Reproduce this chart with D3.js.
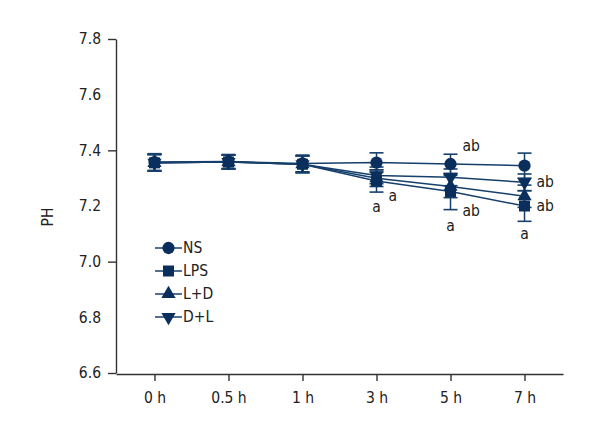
<!DOCTYPE html>
<html>
<head>
<meta charset="utf-8">
<script src="https://cdn.jsdelivr.net/npm/d3@7"></script>
<style>
  body { margin: 0; background: #fff; }
  text { font-family: "DejaVu Sans Condensed", sans-serif; fill: #222; }
</style>
</head>
<body>
<svg></svg>
<script>
const width = 600;
const height = 440;

const times = ['0 h', '0.5 h', '1 h', '3 h', '5 h', '7 h'];
const yTicks = [6.6, 6.8, 7.0, 7.2, 7.4, 7.6, 7.8];
const yMajor = [6.6, 7.0, 7.4, 7.8];

const nsVal = [7.358, 7.360, 7.353, 7.356, 7.351, 7.345];
const nsErr = [0.030, 0.025, 0.030, 0.035, 0.035, 0.045];
const lpsVal = [7.355, 7.358, 7.350, 7.290, 7.252, 7.200];
const lpsErr = [0.030, 0.025, 0.030, 0.040, 0.065, 0.055];
const ldVal = [7.355, 7.358, 7.350, 7.300, 7.270, 7.235];
const ldErr = [0.030, 0.025, 0.030, 0.030, 0.040, 0.040];
const dlVal = [7.355, 7.358, 7.350, 7.310, 7.303, 7.285];
const dlErr = [0.030, 0.025, 0.030, 0.030, 0.030, 0.030];

// significance letters: time, text, pH level of the label, side of the point
const marks = [
  { t: '3 h', text: 'a', ph: 7.196, side: 'below' },
  { t: '3 h', text: 'a', ph: 7.236, side: 'right' },
  { t: '5 h', text: 'ab', ph: 7.416, side: 'right' },
  { t: '5 h', text: 'ab', ph: 7.182, side: 'right' },
  { t: '5 h', text: 'a', ph: 7.128, side: 'below' },
  { t: '7 h', text: 'ab', ph: 7.286, side: 'right' },
  { t: '7 h', text: 'ab', ph: 7.200, side: 'right' },
  { t: '7 h', text: 'a', ph: 7.099, side: 'below' }
];

const navy = '#0b2f5c';
const lineCol = '#163f6c';
const fontSize = '15.5px';

const svg = d3.select('svg')
  .attr('width', width)
  .attr('height', height);

const x = d3.scalePoint()
  .domain(times)
  .range([116, 563])
  .padding(0.52);

const y = d3.scaleLinear()
  .domain([6.6, 7.8])
  .range([373, 39]);

// axes
const yAxis = d3.axisLeft(y)
  .tickValues(yTicks)
  .tickFormat(d3.format('.1f'))
  .tickSize(8)
  .tickSizeOuter(0)
  .tickPadding(7);

const gy = svg.append('g')
  .attr('transform', 'translate(116,0)')
  .call(yAxis);
gy.selectAll('.tick')
  .filter(d => !yMajor.some(m => Math.abs(m - d) < 1e-6))
  .select('line').remove();

const xAxis = d3.axisBottom(x)
  .tickSize(7)
  .tickSizeOuter(0)
  .tickPadding(11);

svg.append('g')
  .attr('transform', 'translate(0,374)')
  .call(xAxis);

svg.selectAll('.domain, .tick line')
  .attr('stroke', '#333')
  .attr('stroke-width', 1.4);
svg.selectAll('.tick text')
  .style('font-size', fontSize)
  .attr('fill', '#222');

svg.append('text')
  .attr('transform', 'translate(48,217) rotate(-90)')
  .attr('text-anchor', 'middle')
  .attr('dominant-baseline', 'central')
  .style('font-size', fontSize)
  .text('PH');

const series = [
  { name: 'NS', vals: nsVal, errs: nsErr, shape: 'circle' },
  { name: 'LPS', vals: lpsVal, errs: lpsErr, shape: 'square' },
  { name: 'L+D', vals: ldVal, errs: ldErr, shape: 'up' },
  { name: 'D+L', vals: dlVal, errs: dlErr, shape: 'down' }
];

const symbolPath = (shape) => {
  if (shape === 'circle') return d3.symbol(d3.symbolCircle, 118)();
  if (shape === 'square') return d3.symbol(d3.symbolSquare, 121)();
  return d3.symbol(d3.symbolTriangle, 88)();
};
const symbolRot = (shape) => shape === 'down' ? 180 : 0;

const line = d3.line()
  .x((d, i) => x(times[i]))
  .y(d => y(d));

// error bars
series.forEach(s => {
  const g = svg.append('g');
  s.vals.forEach((v, i) => {
    const cx = x(times[i]);
    const e = s.errs[i];
    g.append('line')
      .attr('x1', cx).attr('x2', cx)
      .attr('y1', y(v + e)).attr('y2', y(v - e))
      .attr('stroke', lineCol).attr('stroke-width', 1.5);
    [v + e, v - e].forEach(b => {
      g.append('line')
        .attr('x1', cx - 7).attr('x2', cx + 7)
        .attr('y1', y(b)).attr('y2', y(b))
        .attr('stroke', lineCol).attr('stroke-width', 1.6);
    });
  });
});

// lines
series.forEach(s => {
  svg.append('path')
    .datum(s.vals)
    .attr('d', line)
    .attr('fill', 'none')
    .attr('stroke', lineCol)
    .attr('stroke-width', 1.5);
});

// markers
series.forEach(s => {
  svg.append('g').selectAll('path')
    .data(s.vals)
    .enter()
    .append('path')
    .attr('d', symbolPath(s.shape))
    .attr('transform', (d, i) => `translate(${x(times[i])},${y(d)}) rotate(${symbolRot(s.shape)})`)
    .attr('fill', navy);
});

// significance letters
svg.append('g').selectAll('text')
  .data(marks)
  .enter()
  .append('text')
  .attr('x', d => d.side === 'below' ? x(d.t) : x(d.t) + 12)
  .attr('y', d => y(d.ph))
  .attr('text-anchor', d => d.side === 'below' ? 'middle' : 'start')
  .attr('dominant-baseline', 'central')
  .style('font-size', fontSize)
  .text(d => d.text);

// legend
const legend = svg.append('g')
  .attr('transform', 'translate(155,248)');
series.forEach((s, i) => {
  const g = legend.append('g')
    .attr('transform', `translate(0,${i * 23})`);
  g.append('line')
    .attr('x1', 0).attr('x2', 27)
    .attr('stroke', lineCol).attr('stroke-width', 1.5);
  g.append('path')
    .attr('d', symbolPath(s.shape))
    .attr('transform', `translate(13.5,0) rotate(${symbolRot(s.shape)})`)
    .attr('fill', navy);
  g.append('text')
    .attr('x', 28)
    .attr('dominant-baseline', 'central')
    .style('font-size', fontSize)
    .text(s.name);
});
</script>
</body>
</html>
